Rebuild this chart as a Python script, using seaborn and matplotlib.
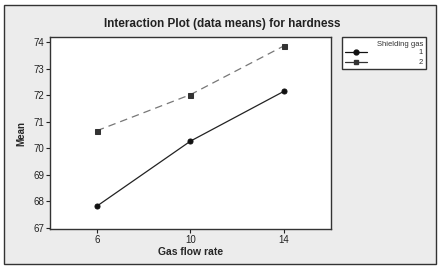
import pandas as pd
import seaborn as sns
from matplotlib import pyplot as plt
from matplotlib.patches import Rectangle

gas_flow = [6, 10, 14]
gas_1 = [67.82, 70.27, 72.15]
gas_2 = [70.66, 72.02, 73.86]
x_ticks = [6, 10, 14]
y_ticks = [67, 68, 69, 70, 71, 72, 73, 74]

df = pd.DataFrame({
    "Gas flow rate": gas_flow * 2,
    "Mean": gas_1 + gas_2,
    "Shielding gas": ["1"] * 3 + ["2"] * 3,
})

sns.set_style("white")
plt.rcParams["font.family"] = ["Liberation Sans", "DejaVu Sans"]

fig = plt.figure(figsize=(4.42, 2.70), dpi=100)
fig.patch.set_facecolor("white")
# grey outer panel
fig.patches.append(Rectangle((4 / 442, 1 - 264 / 270), 432 / 442, 259 / 270,
                             transform=fig.transFigure, facecolor="#ececec",
                             edgecolor="#333333", linewidth=1.0, zorder=-1))

ax = fig.add_axes([50 / 442, 1 - 229 / 270, 281 / 442, 192 / 270])
ax.set_zorder(1)
ax.set_facecolor("white")

sns.lineplot(data=df, x="Gas flow rate", y="Mean", hue="Shielding gas",
             style="Shielding gas", markers={"1": "o", "2": "s"},
             dashes={"1": "", "2": (6, 4)},
             palette={"1": "#222222", "2": "#777777"},
             markersize=3.6, linewidth=0.9, ax=ax, legend=False)
for line, mc in zip(ax.lines, ["#111111", "#333333"]):
    line.set_markerfacecolor(mc)
    line.set_markeredgecolor(mc)

ax.set_xlim(4, 16)
ax.set_ylim(66.96, 74.19)
ax.set_xticks(x_ticks)
ax.set_yticks(y_ticks)
ax.tick_params(axis="both", labelsize=7, length=3, width=0.8, direction="out",
               colors="#222222", pad=1, left=True, bottom=True)
for s in ax.spines.values():
    s.set_color("#333333")
    s.set_linewidth(1.0)
ax.set_xlabel("Gas flow rate", fontsize=7.5, fontweight="bold", labelpad=2)
ax.set_ylabel("Mean", fontsize=7, fontweight="bold", labelpad=5)

fig.text(222 / 442, 1 - 24 / 270, "Interaction Plot (data means) for hardness",
         ha="center", va="center", fontsize=8.5, fontweight="bold", color="#222222")

# legend box drawn by hand to match the Minitab style
fig.patches.append(Rectangle((342 / 442, 1 - 69 / 270), 84 / 442, 32 / 270,
                             transform=fig.transFigure, facecolor="white",
                             edgecolor="#333333", linewidth=1.0, zorder=2))
fig.text(423 / 442, 1 - 44 / 270, "Shielding gas", ha="right", va="center",
         fontsize=5.5, color="#333333", zorder=3)
leg_items = [("1", "o", "#111111", 52), ("2", "s", "#333333", 62)]
for lab, mk, col, yy in leg_items:
    y = 1 - yy / 270
    fig.add_artist(plt.Line2D([345 / 442, 367 / 442], [y, y], color=col,
                              linewidth=0.9, marker=None, transform=fig.transFigure, zorder=3))
    fig.add_artist(plt.Line2D([356 / 442], [y], marker=mk, markersize=3.5, color=col,
                              transform=fig.transFigure, zorder=3))
    fig.text(423 / 442, y, lab, ha="right", va="center", fontsize=5.5,
             color="#333333", zorder=3)

plt.savefig("out.png", dpi=100)
